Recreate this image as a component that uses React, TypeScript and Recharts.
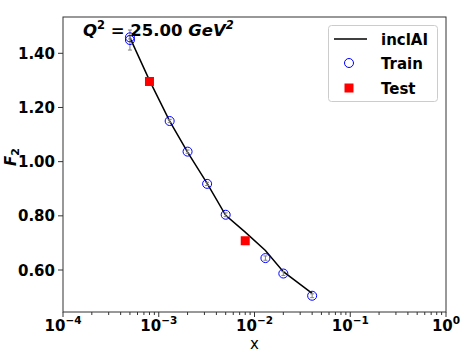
import React from "react";
import {
  ComposedChart,
  Line,
  Scatter,
  XAxis,
  YAxis,
  ErrorBar,
} from "recharts";

// values (Q^2 = 25 GeV^2)
const trainX = [5e-4, 5e-4, 1.3e-3, 2e-3, 3.2e-3, 5e-3, 1.3e-2, 2e-2, 4e-2];
const trainF2 = [1.459, 1.449, 1.15, 1.037, 0.918, 0.804, 0.644, 0.587, 0.505];
const trainErr = [0.006, 0.037, 0.006, 0.006, 0.006, 0.007, 0.008, 0.007, 0.007];

const testX = [8e-4, 8e-3];
const testF2 = [1.296, 0.708];
const testErr = [0.007, 0.009];

const modelX = [5e-4, 8e-4, 1.3e-3, 2e-3, 3.2e-3, 5e-3, 8e-3, 1.3e-2, 2e-2, 4e-2];
const modelF2 = [1.458, 1.3, 1.15, 1.035, 0.92, 0.802, 0.74, 0.672, 0.594, 0.514];

const majorTicks = [1e-4, 1e-3, 1e-2, 1e-1, 1];
const yTicks = [0.6, 0.8, 1.0, 1.2, 1.4];
const legendLabels = ["inclAI", "Train", "Test"];

const trainData = trainX.map((x, i) => ({ x, y: trainF2[i], err: trainErr[i] }));
const testData = testX.map((x, i) => ({ x, y: testF2[i], err: testErr[i] }));
const modelData = modelX.map((x, i) => ({ x, y: modelF2[i] }));

// minor ticks 2..9 inside each decade
const xTicks: number[] = [];
majorTicks.forEach((m, i) => {
  xTicks.push(m);
  if (i < majorTicks.length - 1) {
    for (let k = 2; k <= 9; k++) xTicks.push(m * k);
  }
});

const FONT = "DejaVu Sans, sans-serif";
const AXIS = "#333";

const XTick = (props: any) => {
  const { x, y, payload } = props;
  const lg = Math.log10(payload.value);
  const e = Math.round(lg);
  const major = Math.abs(lg - e) < 1e-6;
  return (
    <g>
      <line x1={x} x2={x} y1={y} y2={y + (major ? 5 : 3)} stroke={AXIS} strokeWidth={1} />
      {major && (
        <text x={x} y={y + 19} textAnchor="middle" fontFamily={FONT} fontWeight="bold" fontSize={15} fill="#000">
          10
          <tspan dy={-7} fontSize={10.5}>
            {e < 0 ? "\u2212" + Math.abs(e) : String(e)}
          </tspan>
        </text>
      )}
    </g>
  );
};

const YTick = (props: any) => {
  const { x, y, payload } = props;
  return (
    <g>
      <line x1={x - 5} x2={x} y1={y} y2={y} stroke={AXIS} strokeWidth={1} />
      <text x={x - 8} y={y + 5.5} textAnchor="end" fontFamily={FONT} fontWeight="bold" fontSize={15} fill="#000">
        {payload.value.toFixed(2)}
      </text>
    </g>
  );
};

const TrainDot = (p: any) => (
  <circle cx={p.cx} cy={p.cy} r={4.5} fill="none" stroke="#0000ff" strokeWidth={1} />
);
const TestDot = (p: any) => (
  <rect x={p.cx - 4.5} y={p.cy - 4.5} width={9} height={9} fill="#ff0000" />
);

export default function App() {
  return (
    <div style={{ position: "absolute", left: 0, top: 0, width: 469, height: 352, background: "#fff" }}>
      <ComposedChart width={469} height={352} margin={{ top: 17, right: 23, bottom: 0, left: 0 }}>
        <XAxis
          dataKey="x"
          type="number"
          scale="log"
          domain={[1e-4, 1]}
          ticks={xTicks}
          interval={0}
          allowDataOverflow
          height={40}
          axisLine={false}
          tickLine={false}
          tickSize={0}
          tickMargin={0}
          tick={<XTick />}
        />
        <YAxis
          dataKey="y"
          type="number"
          domain={[0.445, 1.534]}
          ticks={yTicks}
          allowDataOverflow
          width={63}
          axisLine={false}
          tickLine={false}
          tickSize={0}
          tickMargin={0}
          tick={<YTick />}
        />
        <Line
          data={modelData}
          dataKey="y"
          type="linear"
          stroke="#000"
          strokeWidth={1.5}
          dot={false}
          isAnimationActive={false}
        />
        <Scatter data={trainData} dataKey="y" shape={<TrainDot />} isAnimationActive={false}>
          <ErrorBar dataKey="err" direction="y" width={2} stroke="#808080" strokeWidth={1} />
        </Scatter>
        <Scatter data={testData} dataKey="y" shape={<TestDot />} isAnimationActive={false}>
          <ErrorBar dataKey="err" direction="y" width={2} stroke="#808080" strokeWidth={1} />
        </Scatter>
      </ComposedChart>

      <svg width={469} height={352} style={{ position: "absolute", left: 0, top: 0, pointerEvents: "none" }}>
        {/* axes frame */}
        <rect x={63} y={17} width={383} height={295} fill="none" stroke={AXIS} strokeWidth={1} />

        {/* title */}
        <text x={83} y={36} fontFamily={FONT} fontWeight="bold" fontSize={16.5} fill="#000">
          <tspan fontStyle="italic">Q</tspan>
          <tspan dy={-7} fontSize={11.5}>2</tspan>
          <tspan dy={7}> = 25.00 </tspan>
          <tspan fontStyle="italic">GeV</tspan>
          <tspan dy={-7} fontSize={11.5} fontStyle="italic">2</tspan>
        </text>

        {/* axis labels */}
        <text x={254.5} y={349} textAnchor="middle" fontFamily={FONT} fontSize={15} fill="#000">
          x
        </text>
        <text
          transform="translate(16,157) rotate(-90)"
          textAnchor="middle"
          fontFamily={FONT}
          fontWeight="bold"
          fontSize={15}
          fill="#000"
        >
          <tspan fontStyle="italic">F</tspan>
          <tspan dy={3} fontSize={11}>2</tspan>
        </text>

        {/* legend */}
        <rect x={328.5} y={25.5} width={109} height={76} rx={3} fill="#fff" fillOpacity={0.8} stroke="#cccccc" />
        <line x1={334} x2={367} y1={39} y2={39} stroke="#000" strokeWidth={1.5} />
        <circle cx={349} cy={63} r={4.5} fill="none" stroke="#0000ff" strokeWidth={1} />
        <rect x={344.5} y={83.5} width={9} height={9} fill="#ff0000" />
        {legendLabels.map((t, i) => (
          <text key={t} x={381} y={44.5 + i * 24.5} fontFamily={FONT} fontWeight="bold" fontSize={15} fill="#000">
            {t}
          </text>
        ))}
      </svg>
    </div>
  );
}
